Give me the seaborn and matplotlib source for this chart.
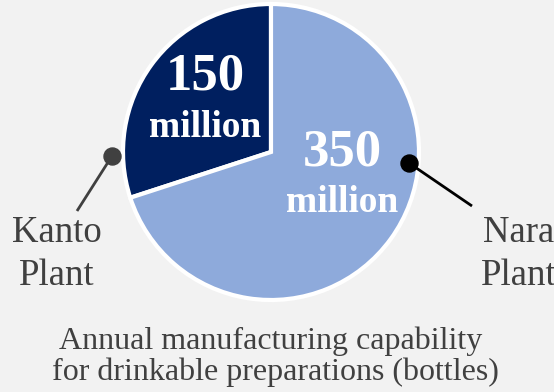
import matplotlib
matplotlib.use("Agg")
import matplotlib.pyplot as plt
import seaborn as sns

plants = ["Kanto\nPlant", "Nara\nPlant"]
values = [150, 350]
value_labels = ["150", "350"]
unit_label = "million"
caption = "Annual manufacturing capability\nfor drinkable preparations (bottles)"

sns.set_theme(style="white")
plt.rcParams["font.family"] = ["Liberation Serif", "DejaVu Serif"]

BG = "#f2f2f2"
colors = ["#001f5f", "#8eaadb"]

W, H = 554, 392
fig = plt.figure(figsize=(W / 100, H / 100), dpi=100, facecolor=BG)
ax = fig.add_axes([0, 0, 1, 1])
ax.set_facecolor(BG)
ax.set_xlim(0, W)
ax.set_ylim(0, H)
ax.set_aspect("equal")
ax.axis("off")

def Y(py):
    return H - py

cx, cy, r = 271, 152, 148
ax.pie(values, colors=colors, startangle=90, counterclock=True,
       center=(cx, Y(cy)), radius=r,
       wedgeprops=dict(edgecolor="white", linewidth=3))
ax.set_xlim(0, W)
ax.set_ylim(0, H)

# value labels inside slices
val_pos = [(205, 89, 137), (342, 165, 212)]
for (x, yb_num, yb_unit), lab in zip(val_pos, value_labels):
    ax.text(x, Y(yb_num), lab, ha="center", va="baseline", color="white",
            fontsize=38, fontweight="bold")
    ax.text(x, Y(yb_unit), unit_label, ha="center", va="baseline", color="white",
            fontsize=27, fontweight="bold")

# leader lines
ax.plot([112, 77], [Y(156), Y(211)], color="#404040", lw=2, solid_capstyle="butt")
ax.scatter([112], [Y(156)], s=150, color="#404040", zorder=5)
ax.plot([409, 472], [Y(163), Y(206)], color="black", lw=2, solid_capstyle="butt")
ax.scatter([409], [Y(163)], s=150, color="black", zorder=5)

# category labels
name_pos = [(57, 242, 285), (519, 242, 285)]
for (x, y1, y2), name in zip(name_pos, plants):
    l1, l2 = name.split("\n")
    ax.text(x, Y(y1), l1, ha="center", va="baseline", color="#404040", fontsize=26.5)
    ax.text(x, Y(y2), l2, ha="center", va="baseline", color="#404040", fontsize=26.5)

c1, c2 = caption.split("\n")
ax.text(271, Y(349), c1, ha="center", va="baseline", color="#404040", fontsize=23)
ax.text(275, Y(380), c2, ha="center", va="baseline", color="#404040", fontsize=23)

fig.savefig("out.png", dpi=100, facecolor=BG)
